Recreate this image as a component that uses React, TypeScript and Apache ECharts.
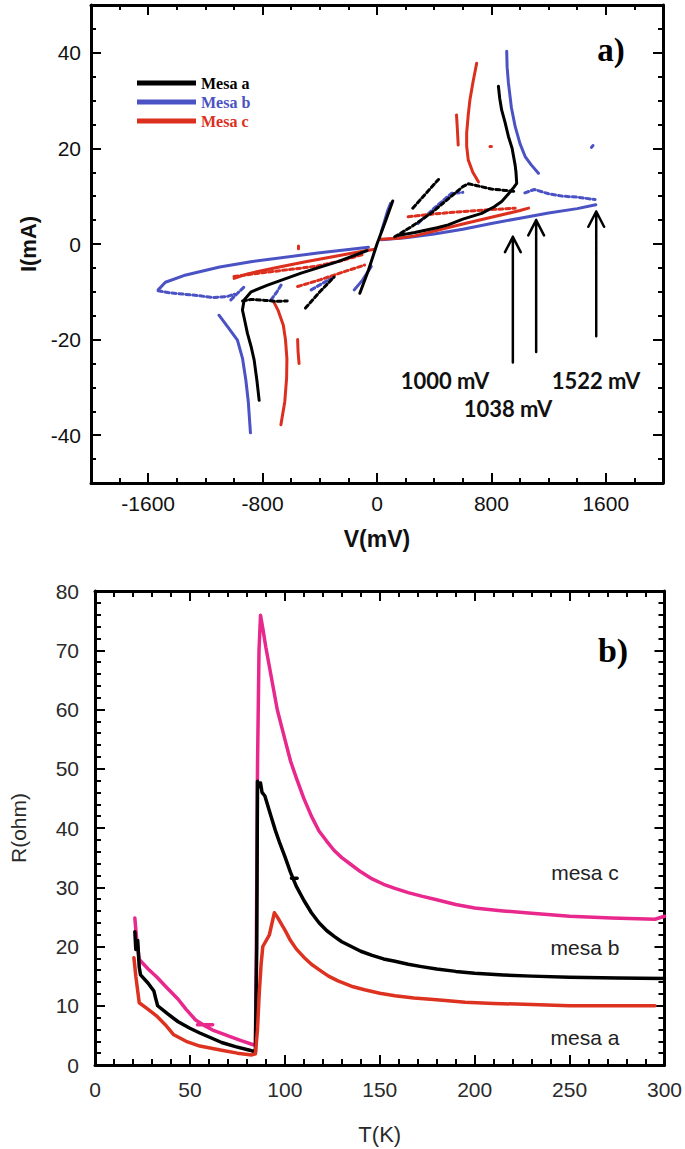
import React, { useEffect, useRef } from 'react';
import * as echarts from 'echarts';

// ---------- Panel a) : I(mA) vs V(mV) ----------
const V_MAJOR = [-1600, -800, 0, 800, 1600];
const I_MAJOR = [-40, -20, 0, 20, 40];

// Mesa a (black) — solid traces
const MESA_A_SOLID: number[][][] = [
  [[150, 1.8], [264, 2.4], [420, 3.4], [498, 4.0], [600, 5.2], [732, 6.4], [820, 7.8], [872, 8.9], [920, 10.5], [955, 11.8], [977, 12.7], [972, 15], [966, 16.5], [945, 20], [919, 22.5], [895, 25.5], [872, 28], [858, 30.5], [849, 33]],
  [[-120, -10.3], [-60, -5.5], [0, 0], [60, 4.8], [110, 9]],
  [[-70, -1.4], [-274, -3.7], [-531, -6.1], [-765, -8.6], [-880, -10], [-929, -11.7], [-941, -13.8], [-925, -16], [-906, -18.7], [-880, -21.5], [-859, -24.3], [-840, -28.5], [-824, -32.7]],
];
// Mesa a (black) — scattered traces
const MESA_A_DOTS: number[][][] = [
  [[124, 1.5], [250, 3.8], [380, 6.5], [500, 9.5], [600, 12], [640, 12.6], [700, 12.2], [800, 11.5], [900, 11.2], [960, 11]],
  [[250, 7.5], [340, 10.5], [430, 13.5]],
  [[-940, -11.9], [-880, -11.6], [-780, -11.8], [-700, -12], [-628, -11.9]],
  [[-500, -13.4], [-400, -10], [-300, -6.9]],
];

// Mesa b (blue) — solid traces
const MESA_B_SOLID: number[][][] = [
  [[30, 0.9], [200, 1.3], [400, 2.1], [600, 3.1], [800, 4.3], [1000, 5.4], [1200, 6.5], [1400, 7.4], [1530, 8.2]],
  [[1129, 14.8], [1080, 16.5], [1036, 18.3], [1000, 21], [966, 24.6], [940, 28.5], [919, 33.7], [910, 37], [907, 40.3]],
  [[-60, -0.7], [-414, -1.9], [-882, -3.7], [-1100, -4.8], [-1351, -6.6], [-1480, -8], [-1530, -9.6]],
  [[-1105, -14.9], [-1040, -17.5], [-976, -20.1], [-940, -24], [-917, -28.5], [-900, -33], [-885, -39.5]],
  [[-159, -9.6], [-100, -7.5], [-40, -4.7]],
  [[30, 2.5], [75, 7], [95, 8.5]],
  [[1500, 20.2], [1510, 20.6]],
];
// Mesa b (blue) — scattered traces
const MESA_B_DOTS: number[][][] = [
  [[1034, 10.7], [1100, 11.4], [1200, 10.5], [1300, 10], [1400, 9.8], [1525, 9.3]],
  [[287, 4.3], [400, 7.5], [521, 10.6], [600, 10.8]],
  [[-1530, -9.8], [-1450, -10.2], [-1350, -10.5], [-1250, -10.8], [-1150, -11.2], [-1050, -11], [-996, -10.5]],
  [[-741, -11.7], [-700, -10], [-671, -8.6]],
  [[-1022, -11.7], [-975, -10.3], [-930, -9]],
  [[-460, -9.6], [-380, -8.2], [-298, -6.8]],
];

// Mesa c (red) — solid traces
const MESA_C_SOLID: number[][][] = [
  [[20, 1.0], [150, 1.2], [264, 1.7], [400, 2.7], [600, 4.2], [800, 5.6], [1000, 7.0], [1060, 7.5]],
  [[709, 13], [670, 15], [638, 17.6], [627, 20.5], [627, 23.2], [638, 27], [650, 30.2], [672, 34], [697, 37.8]],
  [[556, 27], [562, 24], [568, 20.7]],
  [[790, 20.4], [800, 20.4]],
  [[-15, -1.1], [-100, -1.5], [-300, -2.6], [-500, -3.7], [-700, -4.9], [-900, -6.2], [-999, -7.2]],
  [[-720, -12.2], [-690, -14], [-655, -17], [-640, -20], [-630, -24], [-632, -28], [-645, -33], [-672, -37.8]],
  [[-555, -20], [-552, -22.5], [-545, -25]],
  [[-549, -0.4], [-549, -1.0]],
];
// Mesa c (red) — scattered traces
const MESA_C_DOTS: number[][][] = [
  [[218, 5.7], [400, 6.3], [600, 6.8], [800, 7.2], [966, 7.5]],
  [[-1000, -6.8], [-800, -6.0], [-600, -5.3], [-414, -4.6], [-250, -3.5], [-100, -2.2]],
  [[-555, -8.9], [-400, -7.5], [-250, -6], [-87, -4.4]],
];

// Arrows marking 1000, 1038 and 1522 mV
const ARROW_V = [950, 1113, 1533];
const ARROW_TAIL = [-24.8, -22.6, -19.3];
const ARROW_TIP = [1.5, 5.0, 6.8];
const ARROW_LABELS = ['1000 mV', '1038 mV', '1522 mV'];

// ---------- Panel b) : R(ohm) vs T(K) ----------
const MESA_C_RT: (number | string)[][] = [
  [21, 24.8], [22, 21], [23.3, 17.8], [28, 16.2], [32.4, 14.9], [38, 13], [43.8, 11.1], [48, 9.4], [53, 7.6], [58, 6.6], [62, 5.9], [67, 5.3], [71.2, 4.8], [77, 4.1], [82.6, 3.5], [84.5, 3.3],
  [85, 20], [85.6, 50], [86.4, 70], [87.2, 75.9], [88.5, 73.5], [90, 70.5], [92, 67], [94, 63.5], [96, 60], [98, 57.5], [100, 55], [103, 51.3], [106, 48.5], [110, 45], [114, 42], [118, 39.5], [122, 37.8], [126, 36.2], [130, 35], [135, 33.8], [140, 32.6], [146, 31.4], [152, 30.5], [158, 29.8], [165, 29.1], [172, 28.5], [180, 27.9], [190, 27.1], [200, 26.5], [215, 26], [230, 25.6], [250, 25.1], [272, 24.8], [295, 24.6], [300, 25.1],
  ['-', '-'], [54, 6.8], [62, 6.8],
];
const MESA_B_RT: (number | string)[][] = [
  [21, 22.5], [21.5, 19.5], [22.5, 21], [23.3, 16.5], [24, 15.2], [28, 13.8], [31, 12.5], [32, 11.2], [33, 10], [38, 8.7], [43.8, 7.3], [50, 6.2], [55.2, 5.4], [61, 4.6], [66.7, 3.8], [74, 3.1], [81.5, 2.5], [84.5, 2.2],
  [85.2, 20], [85.6, 47.9], [86.5, 47], [87.2, 47.6], [88, 46], [89.5, 45.4], [91, 43.8], [93, 41.7], [95, 39.6], [97.5, 37.3], [100, 35.2], [103, 32.5], [106, 30.2], [110, 27.8], [114, 25.7], [118, 24], [122, 22.7], [126, 21.7], [130, 20.8], [135, 20], [140, 19.2], [146, 18.5], [152, 17.9], [158, 17.5], [165, 17], [172, 16.6], [180, 16.2], [190, 15.8], [200, 15.5], [215, 15.2], [230, 15], [250, 14.8], [275, 14.7], [300, 14.6],
  ['-', '-'], [103.5, 31.5], [106.5, 31.5],
];
const MESA_A_RT: (number | string)[][] = [
  [20.5, 18.1], [21.5, 15], [23.3, 10.5], [28, 9.4], [32.4, 8.3], [37, 6.8], [41.5, 5.1], [48, 4], [55.2, 3.2], [66.7, 2.5], [75, 2], [82.6, 1.7], [84.5, 1.9],
  [85.6, 6], [86.5, 12], [87.5, 17], [88.4, 20], [91.8, 21.9], [94.5, 25.7], [96, 25], [98, 23.9], [100, 22.8], [103, 21], [106, 19.6], [110, 18.2], [114, 17], [118, 16.1], [123, 15], [128, 14.2], [135, 13.3], [142, 12.7], [150, 12.1], [158, 11.7], [168, 11.3], [180, 11], [195, 10.6], [210, 10.4], [230, 10.2], [250, 10], [295, 10],
];

const BLACK = '#000000';
const BLUE = '#4a52c4';
const RED = '#dc2f1e';
const MAGENTA = '#e8288c';
const RED_B = '#dd3220';

const GAP = ['-', '-'];
function joinSegments(segs: number[][][]) {
  const out: any[] = [];
  segs.forEach((s, i) => {
    if (i > 0) out.push(GAP);
    s.forEach((p) => out.push(p));
  });
  return out;
}

function rangeStep(a: number, b: number, step: number) {
  const out: number[] = [];
  for (let v = a; v <= b + 1e-9; v += step) out.push(v);
  return out;
}

const V_MINOR = rangeStep(-2000, 2000, 200);
const I_MINOR = rangeStep(-50, 50, 5);

const SANS = 'Liberation Sans, Arial, sans-serif';
const SERIF = 'Liberation Serif, Times New Roman, serif';

function buildOption() {
  const axisLine = { show: true, onZero: false, lineStyle: { color: '#000', width: 3 } };
  const noLine = { show: false, onZero: false };
  const topLabel = { fontSize: 21, color: '#111', fontFamily: SANS, formatter: (v: number) => String(v) };

  const xTop = (pos: 'bottom' | 'top', major: boolean, withLabel: boolean) => ({
    type: 'value', gridIndex: 0, position: pos, min: -2000, max: 2000,
    axisLine: major ? axisLine : noLine,
    axisTick: { show: true, inside: true, length: major ? 10 : 5, customValues: major ? V_MAJOR : V_MINOR, lineStyle: { color: '#000', width: 2 } },
    axisLabel: withLabel ? { show: true, customValues: V_MAJOR, margin: 10, ...topLabel } : { show: false },
    splitLine: { show: false },
    ...(withLabel ? { name: 'V(mV)', nameLocation: 'middle', nameGap: 44, nameTextStyle: { fontSize: 23, fontWeight: 'bold', color: '#111', fontFamily: SANS } } : {}),
  });
  const yTop = (pos: 'left' | 'right', major: boolean, withLabel: boolean) => ({
    type: 'value', gridIndex: 0, position: pos, min: -50, max: 50,
    axisLine: major ? axisLine : noLine,
    axisTick: { show: true, inside: true, length: major ? 10 : 5, customValues: major ? I_MAJOR : I_MINOR, lineStyle: { color: '#000', width: 2 } },
    axisLabel: withLabel ? { show: true, customValues: I_MAJOR, margin: 10, ...topLabel } : { show: false },
    splitLine: { show: false },
    ...(withLabel ? { name: 'I(mA)', nameLocation: 'middle', nameGap: 44, nameRotate: 90, nameTextStyle: { fontSize: 22, fontWeight: 'bold', color: '#111', fontFamily: SANS } } : {}),
  });

  const botLabel = { fontSize: 21, color: '#2a2a2a', fontFamily: SANS };
  const xBot = (pos: 'bottom' | 'top', withLabel: boolean) => ({
    type: 'value', gridIndex: 1, position: pos, min: 0, max: 300, interval: 50,
    axisLine,
    axisTick: { show: true, inside: true, length: 10, lineStyle: { color: '#000', width: 2 } },
    minorTick: { show: true, splitNumber: 5, length: 6, lineStyle: { color: '#000', width: 2 } },
    axisLabel: withLabel ? { show: true, margin: 14, ...botLabel } : { show: false },
    splitLine: { show: false },
    ...(withLabel ? { name: 'T(K)', nameLocation: 'middle', nameGap: 58, nameTextStyle: { fontSize: 22, color: '#2a2a2a', fontFamily: SANS } } : {}),
  });
  const yBot = (pos: 'left' | 'right', withLabel: boolean) => ({
    type: 'value', gridIndex: 1, position: pos, min: 0, max: 80, interval: 10,
    axisLine,
    axisTick: { show: true, inside: true, length: 10, lineStyle: { color: '#000', width: 2 } },
    minorTick: { show: true, splitNumber: 5, length: 6, lineStyle: { color: '#000', width: 2 } },
    axisLabel: withLabel ? { show: true, margin: 16, ...botLabel } : { show: false },
    splitLine: { show: false },
    ...(withLabel ? { name: 'R(ohm)', nameLocation: 'middle', nameGap: 66, nameRotate: 90, nameTextStyle: { fontSize: 21, color: '#2a2a2a', fontFamily: SANS } } : {}),
  });

  const line = (name: string, data: any[], color: string, dashed: boolean, xi: number, yi: number, width = 3) => ({
    type: 'line', name, data, xAxisIndex: xi, yAxisIndex: yi,
    symbol: 'none', connectNulls: false, smooth: false, silent: true,
    lineStyle: { color, width, type: dashed ? [4, 3] : 'solid', cap: 'round', join: 'round' },
    itemStyle: { color },
    z: 3,
  });

  // arrows built from the annotation arrays
  const arrowData: any[] = [];
  ARROW_V.forEach((v, i) => {
    if (i > 0) arrowData.push(GAP);
    arrowData.push([v, ARROW_TAIL[i]], [v, ARROW_TIP[i]], GAP, [v - 55, ARROW_TIP[i] - 3.2], [v, ARROW_TIP[i]], [v + 55, ARROW_TIP[i] - 3.2]);
  });

  const annoText = (text: string, x: number, y: number) => ({
    type: 'text', x, y,
    style: { text, fill: '#111', font: 'bold 22px Lato, "Open Sans", sans-serif', align: 'center', verticalAlign: 'middle' },
  });
  const curveLabel = (text: string, x: number, y: number) => ({
    type: 'text', x, y,
    style: { text, fill: '#222', font: '21px "Liberation Sans", Arial, sans-serif', align: 'center', verticalAlign: 'middle' },
  });

  return {
    animation: false,
    backgroundColor: '#ffffff',
    grid: [
      { left: 91, top: 5, width: 572, height: 478 },
      { left: 91, top: 591, width: 574, height: 474 },
    ],
    xAxis: [
      xTop('bottom', true, true), xTop('bottom', false, false), xTop('top', true, false), xTop('top', false, false),
      xBot('bottom', true), xBot('top', false),
    ],
    yAxis: [
      yTop('left', true, true), yTop('left', false, false), yTop('right', true, false), yTop('right', false, false),
      yBot('left', true), yBot('right', false),
    ],
    legend: {
      show: true, orient: 'vertical', left: 137, top: 75, padding: 0, itemGap: 3,
      itemWidth: 59, itemHeight: 5, icon: 'rect', selectedMode: false,
      textStyle: { fontFamily: SERIF, fontWeight: 'bold', fontSize: 16, lineHeight: 16 },
      data: [
        { name: 'Mesa a', textStyle: { color: BLACK } },
        { name: 'Mesa b', textStyle: { color: BLUE } },
        { name: 'Mesa c', textStyle: { color: RED } },
      ],
    },
    series: [
      line('Mesa b', joinSegments(MESA_B_SOLID), BLUE, false, 0, 0),
      line('Mesa b dots', joinSegments(MESA_B_DOTS), BLUE, true, 0, 0),
      line('Mesa c', joinSegments(MESA_C_SOLID), RED, false, 0, 0),
      line('Mesa c dots', joinSegments(MESA_C_DOTS), RED, true, 0, 0),
      line('Mesa a', joinSegments(MESA_A_SOLID), BLACK, false, 0, 0),
      line('Mesa a dots', joinSegments(MESA_A_DOTS), BLACK, true, 0, 0),
      line('arrows', arrowData, BLACK, false, 0, 0, 2.5),
      line('mesa c', MESA_C_RT, MAGENTA, false, 4, 4, 3.5),
      line('mesa b', MESA_B_RT, BLACK, false, 4, 4, 3.5),
      line('mesa a', MESA_A_RT, RED_B, false, 4, 4, 3.5),
    ],
    graphic: [
      { type: 'text', x: 611, y: 50, style: { text: 'a)', fill: '#000', font: 'bold 33px "Liberation Serif", "Times New Roman", serif', align: 'center', verticalAlign: 'middle' } },
      { type: 'text', x: 613, y: 650, style: { text: 'b)', fill: '#000', font: 'bold 34px "Liberation Serif", "Times New Roman", serif', align: 'center', verticalAlign: 'middle' } },
      annoText(ARROW_LABELS[0], 445, 380),
      annoText(ARROW_LABELS[1], 508, 408),
      annoText(ARROW_LABELS[2], 596, 380),
      curveLabel('mesa c', 585, 872),
      curveLabel('mesa b', 585, 947),
      curveLabel('mesa a', 585, 1037),
    ],
  };
}

export default function App() {
  const ref = useRef<HTMLDivElement>(null);
  useEffect(() => {
    if (!ref.current) return;
    const chart = echarts.init(ref.current, null, { renderer: 'svg' });
    chart.setOption(buildOption() as any);
    return () => chart.dispose();
  }, []);
  return <div ref={ref} style={{ position: 'absolute', left: 0, top: 0, width: 685, height: 1149, background: '#fff' }} />;
}
